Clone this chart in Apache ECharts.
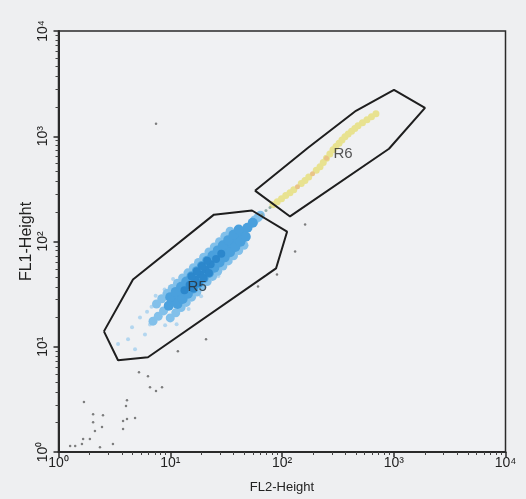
<!DOCTYPE html>
<html>
<head>
<meta charset="utf-8">
<script src="https://cdn.jsdelivr.net/npm/echarts@6/dist/echarts.min.js"></script>
<style>
html,body{margin:0;padding:0;background:#eeeff1;}
#chart{width:526px;height:499px;}
</style>
</head>
<body>
<div id="chart"></div>
<script>
// ---- data ----
const tickLabels = ['10⁰', '10¹', '10²', '10³', '10⁴'];
const xName = 'FL2-Height';
const yName = 'FL1-Height';

const r5Gate = [[2.55,14.0],[3.41,7.45],[6.32,7.95],[71.9,47.6],[88.4,55.5],[111,124],[53.9,197],[24.6,180],[4.64,43.6],[2.55,14.0]];
const r6Gate = [[57.3,304],[118,173],[907,761],[1904,1863],[1005,2759],[459,1745],[171,778],[57.3,304]];

const gateLabels = [
  { name: 'R5', value: [17.4, 37.4] },
  { name: 'R6', value: [352, 682] }
];

const blueCore = [
  [9.69,24.5],[10.8,27.5],[12.0,30.8],[13.4,34.5],[14.9,38.6],[16.7,43.3],[18.6,48.5],[20.7,54.3],[23.0,60.8],
  [25.7,68.1],[28.6,76.3],[31.9,85.5],[35.5,95.7],[39.6,107],[44.1,120],[49.1,135],[54.7,151],
  [10.0,29.6],[11.2,33.2],[12.5,37.2],[13.9,41.7],[15.5,46.7],[17.3,52.3],[19.2,58.6],[21.4,65.6],
  [23.9,73.5],[26.6,82.3],[29.6,92.2],[33.0,103],[36.8,116],[41.0,130],
  [11.6,25.5],[12.9,28.5],[14.4,31.9],[16.1,35.8],[17.9,40.1],[19.9,44.9],[22.2,50.3],[24.8,56.4],
  [27.6,63.1],[30.7,70.7],[34.3,79.2],[38.2,88.7],[42.5,99.4],[47.4,111]
];
const blueDark = [
  [13.4,34.5],[14.9,38.6],[16.7,43.3],[18.6,48.5],[20.7,54.3],[23.0,60.8],[25.7,68.1],[28.6,76.3],
  [15.5,46.7],[17.3,52.3],[19.2,58.6],[21.4,65.6],[16.1,35.8],[17.9,40.1],[19.9,44.9],[22.2,50.3]
];
const blueEdge = [
  [7.53,25.5],[8.39,28.6],[9.35,32.0],[10.4,35.8],[11.6,40.1],[12.9,45.0],[14.4,50.4],[16.1,56.4],
  [17.9,63.2],[19.9,70.8],[22.2,79.4],[24.8,88.9],[27.6,99.5],[30.8,112],[34.3,125],
  [10.0,18.8],[11.2,21.0],[12.5,23.6],[13.9,26.4],[15.5,29.6],[17.3,33.1],[19.2,37.1],[21.4,41.6],
  [23.9,46.6],[26.6,52.2],[29.6,58.4],[33.0,65.4],[36.8,73.3],[41.0,82.1],[45.7,92.0],
  [7.01,17.5],[7.81,19.5],[8.70,21.9],[61.0,169],[57.0,160],[64.0,178]
];
const bluePale = [
  [5.36,19.0],[4.55,15.3],[5.94,13.1],[4.19,11.8],[6.59,16.3],[8.10,20.3],[3.41,10.6],[4.84,9.47],
  [9.95,18.2],[12.2,25.3],[6.8,24.0],[7.4,30.5],[8.9,35.0],[11.4,16.4],[14.6,22.8],[18.9,30.2],
  [6.2,21.5],[9.0,16.0],[10.6,44.0],[27.0,47.0]
];
const yellowBand = [
  [83.1,224],[90.7,239],[99,255],[108,273],[117.9,291],[127.4,311],[148.7,355],[160.6,379],
  [173.5,409],[202.6,476],[219,514],[234,564],[250,619],[268,679],[286,745],[304,800],[324,858],
  [344,921],[366,989],[391,1050],[419,1115],[448,1184],[479,1257],[525,1342],[576,1433],[632,1530],[693,1634]
];
const orangeBits = [[137.6,332],[187.5,441],[250,619]];
const neckDots = [[66.2,180],[71.9,197],[78.1,210]];
const greyDots = [
  [6.32,5.25],[6.59,4.13],[7.46,3.79],[8.44,4.13],[4.10,3.11],[4.02,2.73],[2.04,2.29],[2.50,2.24],
  [1.69,2.98],[3.78,1.97],[4.10,2.06],[4.84,2.10],[3.78,1.65],[2.04,1.92],[2.45,1.73],[2.12,1.58],
  [1.91,1.33],[1.66,1.33],[1.62,1.19],[1.41,1.14],[2.35,1.11],[3.07,1.19],[1.27,1.14],
  [20.9,11.8],[11.7,9.06],[5.25,5.73],[7.46,1313],[61,37.4],[90.2,48.7],[131,80.4],[161,145]
];

// ---- chart ----
const chart = echarts.init(document.getElementById('chart'), null, { renderer: 'canvas' });
const fmt = v => tickLabels[Math.round(Math.log10(v))] || '';
const axisCommon = {
  type: 'log', logBase: 10, min: 1, max: 10000,
  axisLine: { show: true, lineStyle: { color: '#2a2a2a', width: 2 } },
  axisTick: { show: true, inside: false, length: 5, lineStyle: { color: '#2a2a2a', width: 1.5 } },
  minorTick: { show: true, splitNumber: 10, length: 3, lineStyle: { color: '#444', width: 1 } },
  splitLine: { show: false },
  minorSplitLine: { show: false },
  axisLabel: { formatter: fmt, color: '#222', fontSize: 14, fontFamily: 'Liberation Sans, Arial, sans-serif' },
  nameLocation: 'middle',
  nameMoveOverlap: false,
  nameTextStyle: { color: '#222', fontSize: 13, fontFamily: 'Liberation Sans, Arial, sans-serif' }
};
const sc = (data, color, size, opacity, z) => ({
  type: 'scatter', data, symbolSize: size, z: z || 2, silent: true,
  itemStyle: { color, opacity }
});
const gate = data => ({
  type: 'line', data, symbol: 'none', z: 5, silent: true,
  lineStyle: { color: '#1e1e1e', width: 2 }
});

chart.setOption({
  backgroundColor: '#eeeff1',
  animation: false,
  grid: { left: 58.5, right: 20.5, top: 31, bottom: 46, show: true, borderColor: '#2a2a2a', borderWidth: 1.5, backgroundColor: '#f0f1f3' },
  xAxis: Object.assign({}, axisCommon, {
    name: xName, nameGap: 29,
    axisLabel: Object.assign({}, axisCommon.axisLabel, { margin: 4 })
  }),
  yAxis: Object.assign({}, axisCommon, {
    name: yName, nameGap: 24,
    nameTextStyle: Object.assign({}, axisCommon.nameTextStyle, { fontSize: 16 }),
    axisLabel: Object.assign({}, axisCommon.axisLabel, { rotate: 90, margin: 8 })
  }),
  series: [
    sc(greyDots, '#555', 2.5, 0.75, 2),
    sc(bluePale, '#b3d6ef', 4, 1, 2),
    sc(blueEdge, '#82c0ea', 9, 1, 3),
    sc(blueCore, '#4aa0dd', 10, 1, 3),
    sc(blueDark, '#2c87cc', 8, 1, 3),
    sc(yellowBand, '#e8e290', 7, 1, 3),
    sc(orangeBits, '#e9c487', 5, 1, 3),
    sc(neckDots, '#8aa6a0', 3, 0.9, 3),
    gate(r5Gate),
    gate(r6Gate),
    {
      type: 'scatter', data: gateLabels, symbolSize: 1, z: 6, silent: true,
      itemStyle: { color: 'rgba(0,0,0,0)' },
      label: { show: true, position: 'inside', formatter: p => p.name, color: '#2a2a2a', fontSize: 15, fontFamily: 'Liberation Sans, Arial, sans-serif' }
    }
  ]
});
</script>
</body>
</html>
